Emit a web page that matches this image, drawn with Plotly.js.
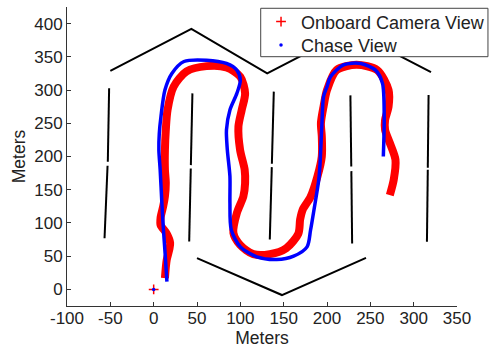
<!DOCTYPE html>
<html>
<head>
<meta charset="utf-8">
<script src="https://cdn.plot.ly/plotly-3.0.1.min.js"></script>
<style>html,body{margin:0;padding:0;background:#fff;}#chart{width:492px;height:348px;}</style>
</head>
<body>
<div id="chart"></div>
<script>
// Onboard camera view path (red)
const onboardX = [13, 15, 18, 19, 15, 8, 8, 11, 13, 14, 13, 13, 14, 16, 23, 38, 61, 84, 100, 105.5, 101.6, 97.8, 99.7, 105, 105.5, 103.5, 96, 92, 99.7, 115, 134, 153, 167, 169, 172, 181, 189, 194, 194, 193, 196, 200, 211, 234, 258, 271, 271, 267, 267, 272, 279, 277, 272.5];
const onboardY = [17, 44, 60, 70, 84, 97, 108, 125, 140, 160, 180, 210, 240, 270, 305, 328, 336, 334, 320, 295, 270, 245, 210, 180, 160, 140, 115, 85, 67, 53, 53, 62, 84, 105, 120, 139, 170, 200, 230, 250, 275, 300, 330, 338, 330, 300, 275, 255, 240, 222, 195, 165, 142];
// Chase view path (blue)
const chaseX = [15.3, 13.2, 11.3, 9.5, 7.5, 6, 6.5, 8.4, 13, 21, 35, 61, 84, 96, 100, 96, 88, 84, 85, 88, 88, 89.5, 100, 119, 142, 161.5, 177, 181, 185, 190.5, 192, 194, 196, 200, 204, 219, 239, 256, 264, 266, 265];
const chaseY = [11.6, 54, 89, 129, 180, 210, 235, 260, 300, 325, 343, 345, 340, 330, 315, 295, 270, 240, 210, 170, 130, 90, 64, 49, 45, 50, 64, 89, 120, 165, 190, 245, 290, 305, 320, 338, 340, 330, 310, 260, 200];
// Start point
const startX = [0];
const startY = [0];
// Course boundary lines (black)
const roofX = [-50, 43.5, 131, 227, 320];
const roofY = [329, 392, 325, 390, 327];
const bottomX = [50, 148, 245];
const bottomY = [47, -8.5, 47.5];
const lanesX = [-51.4, -52.9, null, -53.2, -56.7, null,
                44.7, 42.9, null, 42.8, 41, null,
                138.6, 136.4, null, 136.3, 134, null,
                227, 228.0, null, 228.1, 229, null,
                317.2, 316.3, null, 316.3, 315.3];
const lanesY = [302.7, 192, null, 186, 77, null,
                295, 187, null, 182, 72, null,
                297.6, 189, null, 184, 75, null,
                292, 185, null, 178, 69, null,
                292.5, 183, null, 180, 71.6];
const xTicks = [-100, -50, 0, 50, 100, 150, 200, 250, 300, 350];
const yTicks = [0, 50, 100, 150, 200, 250, 300, 350, 400];
const seriesNames = ['Onboard Camera View', 'Chase View'];

const blackLine = {color: '#000', width: 2};
const traces = [
  {x: roofX, y: roofY, mode: 'lines', line: blackLine, showlegend: false, hoverinfo: 'skip'},
  {x: bottomX, y: bottomY, mode: 'lines', line: blackLine, showlegend: false, hoverinfo: 'skip'},
  {x: lanesX, y: lanesY, mode: 'lines', line: blackLine, connectgaps: false, showlegend: false, hoverinfo: 'skip'},
  {x: onboardX, y: onboardY, mode: 'lines', line: {color: '#ff0000', width: 8, shape: 'spline', smoothing: 0.8}, showlegend: false},
  {x: chaseX, y: chaseY, mode: 'lines', line: {color: '#0000ff', width: 3.5, shape: 'spline', smoothing: 0.8}, showlegend: false},
  {x: startX, y: startY, mode: 'markers', name: seriesNames[0], legend: 'legend',
   marker: {symbol: 'cross-thin', size: 7, color: '#ff0000', line: {color: '#ff0000', width: 1.5}}},
  {x: startX, y: startY, mode: 'markers', name: seriesNames[1], legend: 'legend2',
   marker: {symbol: 'circle', size: 3.5, color: '#0000ff'}}
];

const font = {family: 'Liberation Sans, Arial, sans-serif', size: 17.5, color: '#222'};
const tickFont = {family: 'Liberation Sans, Arial, sans-serif', size: 17, color: '#222'};
const legFont = {family: 'Liberation Sans, Arial, sans-serif', size: 18, color: '#222'};
const legCommon = {xanchor: 'left', yanchor: 'top', bgcolor: 'rgba(0,0,0,0)', borderwidth: 0, font: legFont, itemwidth: 30};
const layout = {
  width: 492, height: 348,
  margin: {l: 67, r: 35, t: 7, b: 42, autoexpand: false},
  paper_bgcolor: '#fff', plot_bgcolor: '#fff',
  font: font,
  xaxis: {
    range: [-100, 350], tickvals: xTicks, ticktext: xTicks.map(String), tickfont: tickFont,
    ticks: 'inside', ticklen: 4, tickcolor: '#333', showgrid: false, zeroline: false,
    ticklabelstandoff: -3,
    showline: true, linecolor: '#333', linewidth: 1, mirror: false,
    title: {text: 'Meters', font: font, standoff: 6}
  },
  yaxis: {
    range: [-25, 425], tickvals: yTicks, ticktext: yTicks.map(String), tickfont: tickFont,
    ticks: 'inside', ticklen: 4, tickcolor: '#333', showgrid: false, zeroline: false,
    showline: true, linecolor: '#333', linewidth: 1, mirror: false,
    title: {text: 'Meters', font: font, standoff: 4}
  },
  shapes: [{type: 'rect', xref: 'paper', yref: 'paper', x0: 0.4967, x1: 1.0794, y0: 0.8338, y1: 0.9957,
            fillcolor: '#fff', line: {color: '#444', width: 1}, layer: 'above'}],
  legend: Object.assign({x: 0.4975, y: 1.012}, legCommon),
  legend2: Object.assign({x: 0.4975, y: 0.934}, legCommon),
  showlegend: true
};
Plotly.newPlot('chart', traces, layout, {displayModeBar: false, staticPlot: true});
</script>
</body>
</html>
